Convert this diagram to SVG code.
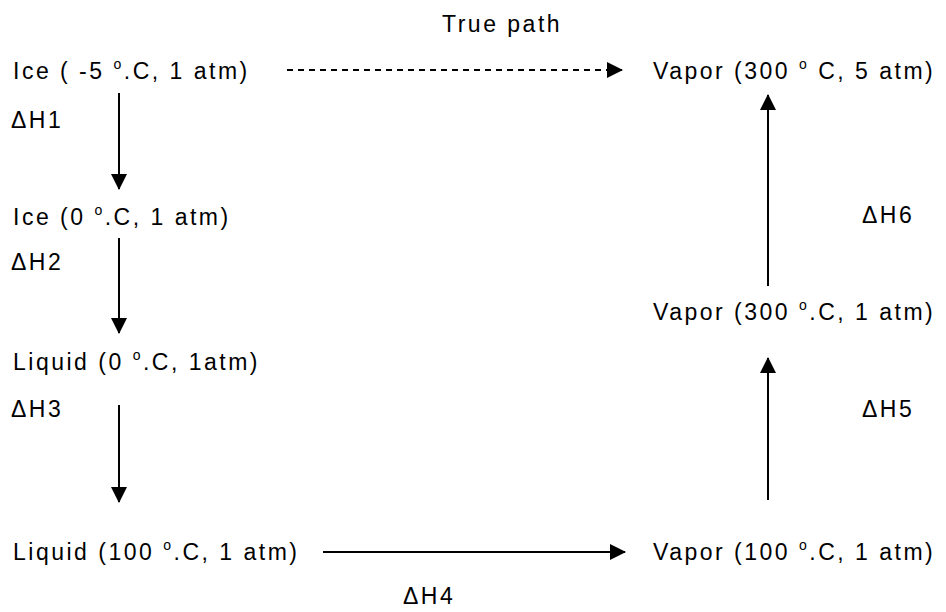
<svg xmlns="http://www.w3.org/2000/svg" width="946" height="612" viewBox="0 0 946 612">
  <style>
    .lbl { font-family: "Liberation Sans", Arial, sans-serif; font-size: 23px; letter-spacing: 2.5px; fill: #000; }
    .sup { font-size: 14px; }
    .edge { stroke: #000; stroke-width: 2; fill: none; marker-end: url(#head); }
    .dash { stroke-dasharray: 6 5; }
  </style>
  <defs>
    <marker id="head" markerUnits="userSpaceOnUse" markerWidth="16" markerHeight="16" viewBox="0 0 16 16" refX="15" refY="8" orient="auto">
      <path d="M0,0 L16,8 L0,16 Z" fill="#000"/>
    </marker>
  </defs>
  <rect width="946" height="612" fill="#fff"/>

  <g id="connectors">
    <line class="edge dash" x1="287" y1="70" x2="622" y2="70"/>
    <line class="edge" x1="119" y1="93" x2="119" y2="189"/>
    <line class="edge" x1="119" y1="238" x2="119" y2="333"/>
    <line class="edge" x1="119" y1="405" x2="119" y2="502"/>
    <line class="edge" x1="323" y1="552" x2="625" y2="552"/>
    <line class="edge" x1="768" y1="500" x2="768" y2="358"/>
    <line class="edge" x1="768" y1="286" x2="768" y2="95"/>
  </g>

  <g id="true-path-label"><text class="lbl" x="442" y="32">True path</text></g>

  <g id="ice-minus5"><text class="lbl" x="13" y="79">Ice ( -5 <tspan class="sup" dy="-10">o</tspan><tspan dy="10">.C, 1 atm)</tspan></text></g>
  <g id="vapor-300-5atm"><text class="lbl" x="653" y="79">Vapor (300 <tspan class="sup" dy="-10">o</tspan><tspan dy="10"> C, 5 atm)</tspan></text></g>
  <g id="dh1"><text class="lbl" x="11" y="128">ΔH1</text></g>

  <g id="ice-0"><text class="lbl" x="13" y="225">Ice (0 <tspan class="sup" dy="-10">o</tspan><tspan dy="10">.C, 1 atm)</tspan></text></g>
  <g id="dh2"><text class="lbl" x="11" y="270">ΔH2</text></g>
  <g id="dh6"><text class="lbl" x="862" y="223">ΔH6</text></g>

  <g id="vapor-300-1atm"><text class="lbl" x="653" y="320">Vapor (300 <tspan class="sup" dy="-10">o</tspan><tspan dy="10">.C, 1 atm)</tspan></text></g>
  <g id="liquid-0"><text class="lbl" x="13" y="370">Liquid (0 <tspan class="sup" dy="-10">o</tspan><tspan dy="10">.C, 1atm)</tspan></text></g>
  <g id="dh3"><text class="lbl" x="11" y="417">ΔH3</text></g>
  <g id="dh5"><text class="lbl" x="862" y="417">ΔH5</text></g>

  <g id="liquid-100"><text class="lbl" x="13" y="560">Liquid (100 <tspan class="sup" dy="-10">o</tspan><tspan dy="10">.C, 1 atm)</tspan></text></g>
  <g id="vapor-100"><text class="lbl" x="653" y="560">Vapor (100 <tspan class="sup" dy="-10">o</tspan><tspan dy="10">.C, 1 atm)</tspan></text></g>
  <g id="dh4"><text class="lbl" x="403" y="604">ΔH4</text></g>
</svg>
